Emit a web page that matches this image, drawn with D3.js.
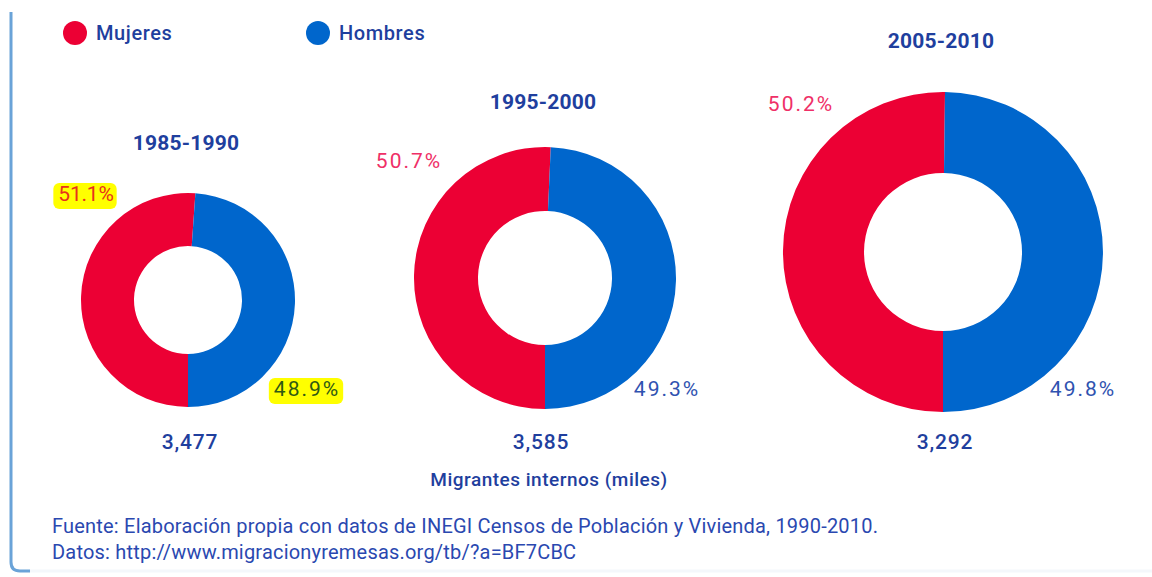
<!DOCTYPE html>
<html lang="es">
<head>
<meta charset="UTF-8">
<title>Migrantes internos por sexo</title>
<script src="https://d3js.org/d3.v7.min.js"></script>
<style>
  body { margin: 0; background: #fff; }
  text { font-family: Roboto, "Open Sans", sans-serif; }
</style>
</head>
<body>
<script>
  // data
  const periods = ['1985-1990', '1995-2000', '2005-2010']
  const totals = ['3,477', '3,585', '3,292']
  const mujeres = [51.1, 50.7, 50.2]
  const hombres = [48.9, 49.3, 49.8]
  const seriesNames = ['Mujeres', 'Hombres']

  const width = 1152
  const height = 577
  const colors = d3.scaleOrdinal().domain(seriesNames).range(['#ec0034', '#0066cc'])
  const navy = '#1f3f9e'

  // layout of each donut (center, outer/inner radius, title and label spots)
  const layout = [
    { cx: 188, cy: 300, r: 107, r0: 54, titleY: 150, redLab: [86, 201], blueLab: [307, 396], hl: true },
    { cx: 545, cy: 278, r: 131, r0: 67, titleY: 109, redLab: [409, 168], blueLab: [667, 396], hl: false },
    { cx: 943, cy: 252, r: 160, r0: 79, titleY: 48, redLab: [801, 111], blueLab: [1083, 396], hl: false }
  ]

  const svg = d3.select('body').append('svg')
    .attr('width', width)
    .attr('height', height)

  // frame on the left / bottom
  svg.append('path')
    .attr('d', 'M11,12 V562 Q11,571 20,571 H30')
    .attr('fill', 'none')
    .attr('stroke', '#6aa3d8')
    .attr('stroke-width', 3)
  svg.append('path')
    .attr('d', 'M30,571 H1152')
    .attr('stroke', '#f4f7fb')
    .attr('stroke-width', 3)

  // legend
  const legend = svg.append('g')
  const legendX = d3.scalePoint().domain(seriesNames).range([75, 318])
  seriesNames.forEach(name => {
    legend.append('circle')
      .attr('cx', legendX(name))
      .attr('cy', 33)
      .attr('r', 12)
      .attr('fill', colors(name))
    legend.append('text')
      .attr('x', legendX(name) + 21)
      .attr('y', 40)
      .attr('font-size', 20)
      .attr('font-weight', 500)
      .attr('fill', navy)
      .attr('letter-spacing', 0.6)
      .text(name)
  })

  const pie = d3.pie().sort(null).value(d => d.value)
    .startAngle(Math.PI).endAngle(3 * Math.PI)

  periods.forEach((p, i) => {
    const L = layout[i]
    const g = svg.append('g').attr('transform', `translate(${L.cx},${L.cy})`)
    const arc = d3.arc().innerRadius(L.r0).outerRadius(L.r)
    const data = [
      { name: 'Mujeres', value: mujeres[i] },
      { name: 'Hombres', value: hombres[i] }
    ]
    g.selectAll('path')
      .data(pie(data))
      .join('path')
      .attr('d', arc)
      .attr('fill', d => colors(d.data.name))

    // title
    svg.append('text')
      .attr('x', L.cx - 2)
      .attr('y', L.titleY)
      .attr('text-anchor', 'middle')
      .attr('font-size', 21)
      .attr('font-weight', 'bold')
      .attr('letter-spacing', 0.2)
      .attr('fill', navy)
      .text(p)

    // total
    svg.append('text')
      .attr('x', L.cx + (i === 1 ? -4 : 2))
      .attr('y', 449)
      .attr('text-anchor', 'middle')
      .attr('font-size', 21)
      .attr('font-weight', 500)
      .attr('fill', navy)
      .attr('letter-spacing', 0.8)
      .text(totals[i])

    const labels = [
      { pos: L.redLab, txt: d3.format('.1f')(mujeres[i]) + '%', fill: L.hl ? '#e8321c' : '#ef2f67', hlFill: '#ffff00' },
      { pos: L.blueLab, txt: d3.format('.1f')(hombres[i]) + '%', fill: L.hl ? '#2f5a14' : '#2f52b0', hlFill: '#ffff00' }
    ]
    labels.forEach((lb, k) => {
      const t = svg.append('text')
        .attr('x', lb.pos[0])
        .attr('y', lb.pos[1])
        .attr('text-anchor', 'middle')
        .attr('font-size', 21)
        .attr('letter-spacing', L.hl && k === 0 ? -0.2 : 2)
        .attr('fill', lb.fill)
        .text(lb.txt)
      if (L.hl) {
        const b = t.node().getBBox()
        svg.insert('rect', () => t.node())
          .attr('x', b.x - 5)
          .attr('y', b.y + 1)
          .attr('width', b.width + 8)
          .attr('height', b.height + 2)
          .attr('rx', 6)
          .attr('fill', lb.hlFill)
      }
    })
  })

  svg.append('text')
    .attr('x', 549)
    .attr('y', 486)
    .attr('text-anchor', 'middle')
    .attr('font-size', 19)
    .attr('font-weight', 500)
    .attr('letter-spacing', 0.5)
    .attr('fill', navy)
    .text('Migrantes internos (miles)')

  const notes = [
    'Fuente: Elaboración propia con datos de INEGI Censos de Población y Vivienda, 1990-2010.',
    'Datos: http://www.migracionyremesas.org/tb/?a=BF7CBC'
  ]
  svg.selectAll('text.note')
    .data(notes)
    .join('text')
    .attr('class', 'note')
    .attr('x', 52)
    .attr('y', (d, i) => 533 + i * 26)
    .attr('font-size', 20)
    .attr('letter-spacing', 0.2)
    .attr('fill', '#2a48b0')
    .text(d => d)
</script>
</body>
</html>
